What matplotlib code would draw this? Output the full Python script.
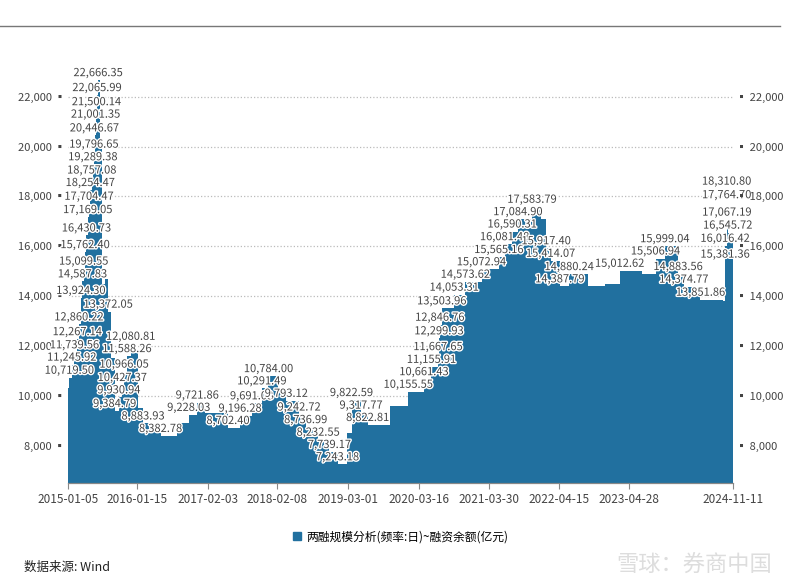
import numpy as np
import pandas as pd
import matplotlib.pyplot as plt
import matplotlib.patheffects as pe
from matplotlib.lines import Line2D

plt.rcParams['font.family'] = ['Noto Sans CJK SC', 'DejaVu Sans']

# (date, value, labelled)
dates = ['2015-01-05', '2015-01-12', '2015-01-26', '2015-02-09', '2015-02-25', '2015-03-06',
         '2015-03-16', '2015-03-24', '2015-03-31', '2015-04-08', '2015-04-15', '2015-04-22',
         '2015-04-29', '2015-05-06', '2015-05-13', '2015-05-20', '2015-05-26', '2015-05-29',
         '2015-06-03', '2015-06-08', '2015-06-12', '2015-06-18', '2015-06-26', '2015-07-08',
         '2015-07-24', '2015-08-10', '2015-08-26', '2015-09-15', '2015-10-08', '2015-10-26',
         '2015-11-05', '2015-11-20', '2015-12-10', '2015-12-31', '2016-01-20', '2016-02-15',
         '2016-04-05', '2016-05-20', '2016-08-15', '2016-10-20', '2016-12-05', '2017-01-15',
         '2017-05-20', '2017-07-25', '2017-09-25', '2017-11-20', '2017-12-25', '2018-02-15',
         '2018-04-01', '2018-06-10', '2018-07-15', '2018-09-20', '2018-11-20', '2019-01-03',
         '2019-02-25', '2019-03-20', '2019-05-10', '2019-06-15', '2019-10-15', '2020-01-20',
         '2020-04-15', '2020-05-25', '2020-06-30', '2020-07-06', '2020-07-10', '2020-07-20',
         '2020-09-25', '2020-11-25', '2021-02-20', '2021-05-25', '2021-06-25', '2021-08-05',
         '2021-09-05', '2021-11-20', '2022-01-10', '2022-02-05', '2022-03-01', '2022-04-20',
         '2022-06-10', '2022-09-20', '2022-12-20', '2023-03-10', '2023-07-10', '2023-09-20',
         '2023-11-10', '2024-01-20', '2024-02-20', '2024-05-20', '2024-09-20', '2024-09-30',
         '2024-10-01', '2024-10-08', '2024-10-09', '2024-10-10', '2024-10-15', '2024-11-11']
values = [10300, 10719.50, 11245.92, 11739.56, 12267.14, 12860.22,
          13924.30, 14587.83, 15099.55, 15762.40, 16430.73, 17169.05,
          17704.47, 18254.47, 18757.08, 19289.38, 19796.65, 20446.67,
          21001.35, 21500.14, 22065.99, 22666.35, 20000, 14500,
          14700, 13372.05, 11500, 9384.79, 9930.94, 10427.37,
          10966.05, 11588.26, 12080.81, 11700, 9500, 8883.93,
          8700, 8382.78, 8900, 9228.03, 9721.86, 9300,
          8702.40, 9196.28, 9691.08, 10291.49, 10784.00, 10200,
          9793.12, 9242.72, 8736.99, 8232.55, 7739.17, 7243.18,
          8500, 9822.59, 9317.77, 8822.81, 9600, 10155.55,
          10661.43, 11155.91, 11667.65, 12299.93, 12846.76, 13503.96,
          14053.31, 14573.62, 15072.94, 15565.16, 16081.48, 16590.31,
          17084.90, 17583.79, 17100, 15917.40, 15414.07, 14387.79,
          14880.24, 14400, 14500, 15012.62, 14900, 15506.94,
          15999.04, 14883.56, 14374.77, 13851.86, 13800, 15381.36,
          16016.42, 18310.80, 17764.70, 17067.19, 16545.72, 16000]
labelled = [0, 1, 1, 1, 1, 1, 1, 1, 1, 1, 1, 1,
            1, 1, 1, 1, 1, 1, 1, 1, 1, 1, 0, 0,
            0, 1, 0, 1, 1, 1, 1, 1, 1, 0, 0, 1,
            0, 1, 0, 1, 1, 0, 1, 1, 1, 1, 1, 0,
            1, 1, 1, 1, 1, 1, 0, 1, 1, 1, 0, 1,
            1, 1, 1, 1, 1, 1, 1, 1, 1, 1, 1, 1,
            1, 1, 0, 1, 1, 1, 1, 0, 0, 1, 0, 1,
            1, 1, 1, 1, 0, 1, 1, 1, 1, 1, 1, 0]
tick_dates = ['2015-01-05', '2016-01-15', '2017-02-03', '2018-02-08', '2019-03-01',
              '2020-03-16', '2021-03-30', '2022-04-15', '2023-04-28', '2024-11-11']
yticks = [8000, 10000, 12000, 14000, 16000, 18000, 20000, 22000]

x = pd.to_datetime(dates)
color = '#21709f'

fig = plt.figure(figsize=(8, 5.86), dpi=100)
ax = fig.add_axes([0.085, 0.176, 0.831, 0.78])
ax.fill_between(x, values, 0, step='post', color=color, lw=0)
ax.set_ylim(6500, 24850)
ax.set_xlim(x[0], x[-1])

for xi, v, lab in zip(x, values, labelled):
    if lab:
        ax.text(xi, v + 80, f'{v:,.2f}', ha='center', va='bottom', fontsize=8,
                color='#444444',
                path_effects=[pe.withStroke(linewidth=2, foreground='white')])

ax.set_yticks(yticks)
ax.set_yticklabels([f'{t:,} ▪' for t in yticks], fontsize=8, color='#444444')
ax.yaxis.grid(True, ls=':', color='#bbbbbb', lw=0.9)
ax.set_axisbelow(True)
ax.tick_params(axis='y', length=0, pad=2)
ax2 = ax.twinx()
ax2.set_ylim(ax.get_ylim())
ax2.set_yticks(yticks)
ax2.set_yticklabels([f'▪ {t:,}' for t in yticks], fontsize=8, color='#444444')
ax2.tick_params(axis='y', length=0, pad=2)

td = pd.to_datetime(tick_dates)
ax.set_xticks(td)
ax.set_xticklabels(tick_dates, fontsize=8.5, color='#444444')
ax.tick_params(axis='x', length=4, color='#888888')
for a in (ax, ax2):
    for s in ['top', 'left', 'right']:
        a.spines[s].set_visible(False)
    a.spines['bottom'].set_color('#888888')

fig.add_artist(Line2D([0, 0.975], [0.956, 0.956], color='#777777', lw=1))
ax.legend(handles=[plt.Rectangle((0, 0), 1, 1, color=color)],
          labels=['两融规模分析(频率:日)~融资余额(亿元)'],
          loc='upper center', bbox_to_anchor=(0.5, -0.08), frameon=False,
          fontsize=8.5, handlelength=0.7, handleheight=0.7, handletextpad=0.4)
fig.text(0.03, 0.025, '数据来源: Wind', fontsize=9, color='#222222')
fig.text(0.965, 0.025, '雪球：券商中国', fontsize=16, color='#dddddd', ha='right')
fig.savefig('out.png', dpi=100)
